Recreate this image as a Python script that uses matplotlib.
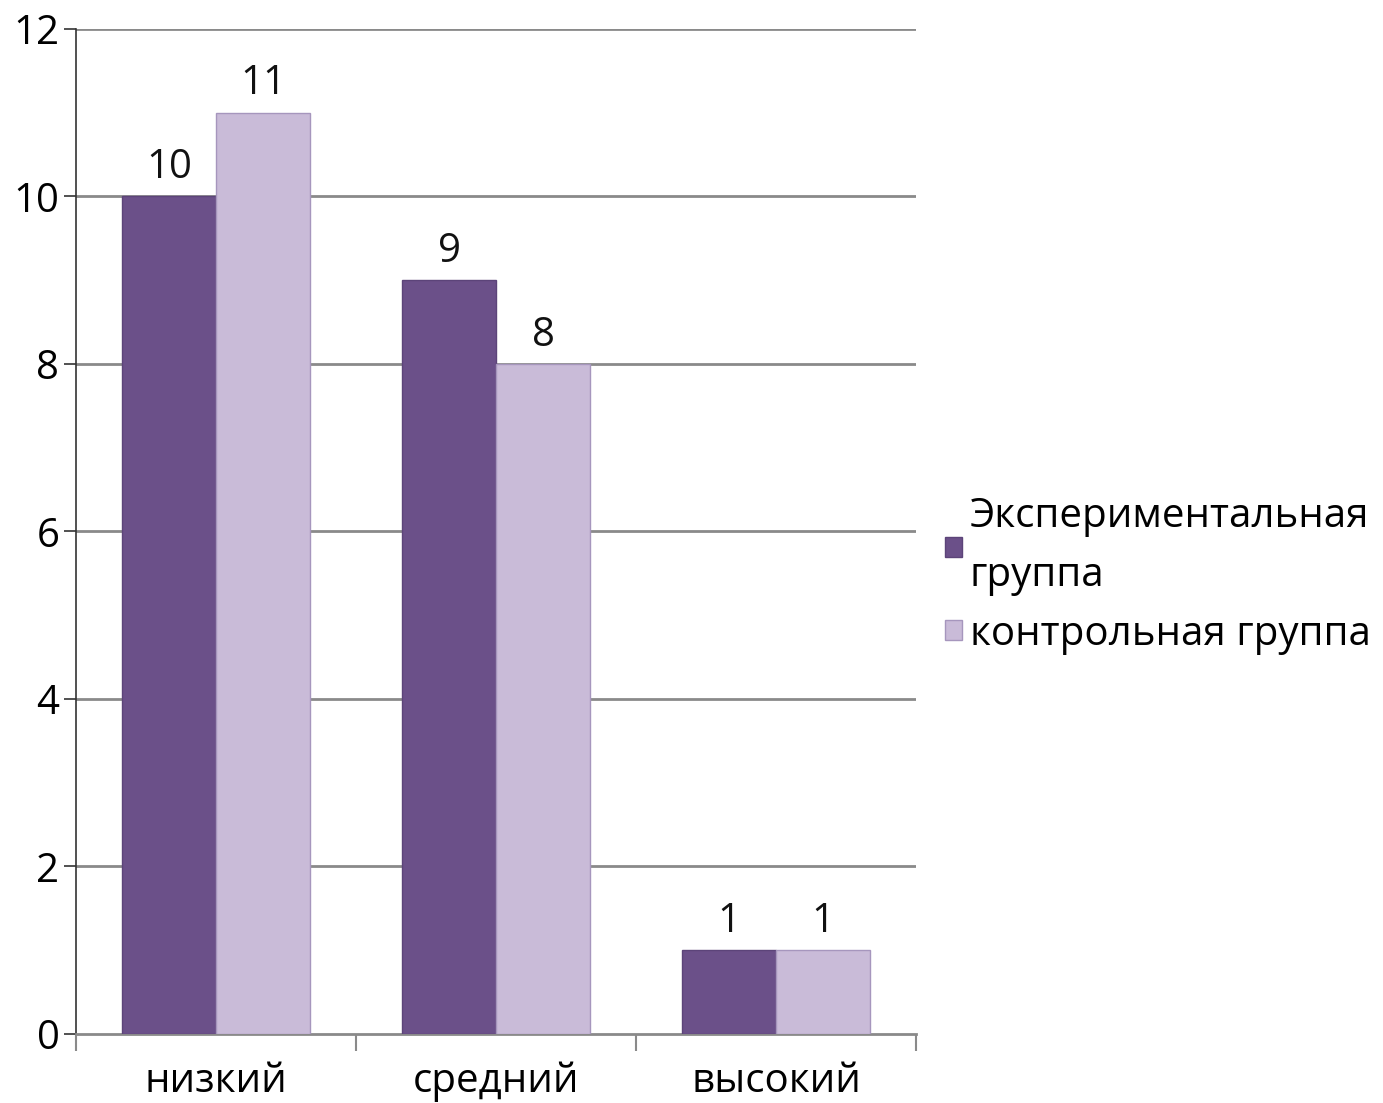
import matplotlib
matplotlib.use('Agg')
import matplotlib.pyplot as plt
import numpy as np

plt.rcParams['font.family'] = ['Open Sans', 'DejaVu Sans']

# data
categories = ['низкий', 'средний', 'высокий']
series_names = ['Экспериментальная\nгруппа', 'контрольная группа']
exp_values = [10, 9, 1]
ctrl_values = [11, 8, 1]
yticks = [0, 2, 4, 6, 8, 10, 12]

dark = '#6b5089'
light = '#c9bbd8'
grid_c = '#8a8a8a'
fs = 29

fig = plt.figure(figsize=(13.83, 11.03), dpi=100)
ax = fig.add_axes([0.055, 0.0626, 0.6075, 0.9111])

x = np.arange(len(categories))
w = 0.335
b1 = ax.bar(x - w/2, exp_values, w, color=dark, edgecolor='#5c4479', lw=1.0,
            label=series_names[0], zorder=3)
b2 = ax.bar(x + w/2, ctrl_values, w, color=light, edgecolor='#a696bd', lw=1.0,
            label=series_names[1], zorder=3)

for bars in (b1, b2):
    for r in bars:
        ax.text(r.get_x() + r.get_width()/2, r.get_height() + 0.1,
                '%d' % r.get_height(), ha='center', va='bottom', fontsize=fs,
                color='#111111')

ax.set_xlim(-0.5, 2.5)
ax.set_ylim(0, 12)
ax.set_yticks(yticks)
ax.set_yticklabels([str(t) for t in yticks], fontsize=fs)
for t in yticks[1:]:
    ax.axhline(t, color=grid_c, lw=2.0, zorder=1)

# category ticks at boundaries, labels centered
ax.set_xticks([-0.5, 0.5, 1.5, 2.5])
ax.set_xticklabels([])
ax.set_xticks(x, minor=True)
ax.set_xticklabels(categories, minor=True, fontsize=fs)
ax.tick_params(axis='x', which='minor', length=0, pad=20)
ax.tick_params(axis='x', which='major', length=12, width=1.5, color=grid_c)
ax.tick_params(axis='y', length=9, width=1.2, color='#333333', pad=3)

for s in ['top', 'right']:
    ax.spines[s].set_visible(False)
ax.spines['bottom'].set_color(grid_c)
ax.spines['bottom'].set_linewidth(2.0)
ax.spines['left'].set_color('#333333')
ax.spines['left'].set_linewidth(1.2)

leg = fig.legend(handles=[b1, b2], loc='center left', bbox_to_anchor=(0.672, 0.478),
                 frameon=False, fontsize=fs, handlelength=0.4, handleheight=0.4,
                 handletextpad=0.2, labelspacing=0.45, borderaxespad=0)
for t in leg.get_texts():
    t.set_linespacing(1.6)

fig.savefig('out.png', dpi=100)
